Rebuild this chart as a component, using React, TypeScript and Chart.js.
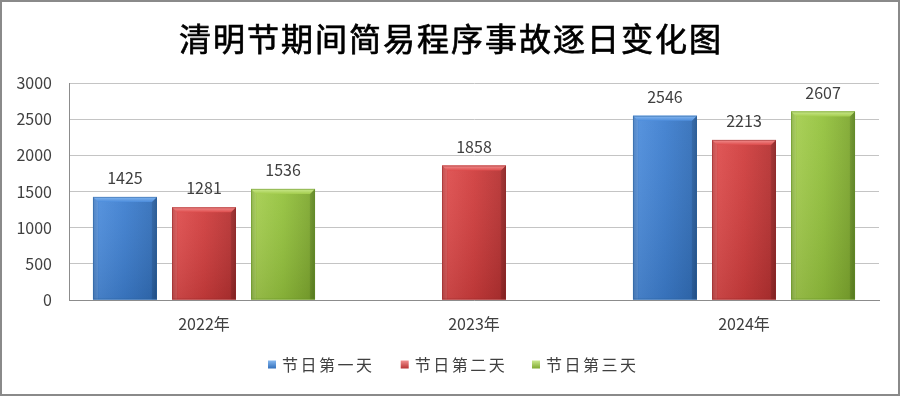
import React, { useEffect, useRef } from "react";
import { Chart, registerables } from "chart.js";

Chart.register(...registerables);

const titleText = "清明节期间简易程序事故逐日变化图";
const categories = ["2022年", "2023年", "2024年"];
const seriesNames = ["节日第一天", "节日第二天", "节日第三天"];
const day1 = [1425, null, 2546];
const day2 = [1281, 1858, 2213];
const day3 = [1536, null, 2607];
const yMin = 0;
const yMax = 3000;
const yStep = 500;

const palettes = [
  { edge: "#2a5f9e", dark: "#3370bb", mid: "#3d7ecf", light: "#4c8cdb", top: "#86b8f0" },
  { edge: "#962828", dark: "#b83232", mid: "#d03d3d", light: "#dd4c4c", top: "#f29090" },
  { edge: "#648f25", dark: "#80aa30", mid: "#94c23d", light: "#a4cd4e", top: "#cbe98e" },
];

const FONT = "'Noto Sans CJK SC', 'Noto Sans', sans-serif";

const barPlugin = {
  id: "fancyBars",
  afterDatasetsDraw(chart: any) {
    const ctx = chart.ctx as CanvasRenderingContext2D;
    chart.data.datasets.forEach((ds: any, i: number) => {
      const meta = chart.getDatasetMeta(i);
      const pal = palettes[i];
      meta.data.forEach((el: any, j: number) => {
        const v = ds.data[j];
        if (v === null || v === undefined) return;
        const { x, y, base, width } = el.getProps(["x", "y", "base", "width"], true);
        const left = x - width / 2;
        const right = x + width / 2;
        const top = Math.min(y, base);
        const bottom = Math.max(y, base);
        const h = bottom - top;
        ctx.save();
        const g = ctx.createLinearGradient(left, 0, right, 0);
        g.addColorStop(0, pal.dark);
        g.addColorStop(0.1, pal.light);
        g.addColorStop(0.5, pal.mid);
        g.addColorStop(0.9, pal.dark);
        g.addColorStop(1, pal.edge);
        ctx.fillStyle = g;
        ctx.fillRect(left, top, width, h);
        const vg = ctx.createLinearGradient(0, top, 0, bottom);
        vg.addColorStop(0, "rgba(255,255,255,0.06)");
        vg.addColorStop(1, "rgba(0,0,0,0.10)");
        ctx.fillStyle = vg;
        ctx.fillRect(left, top, width, h);
        const b = 5;
        const tg = ctx.createLinearGradient(0, top, 0, top + b);
        tg.addColorStop(0, pal.top);
        tg.addColorStop(1, pal.light);
        ctx.fillStyle = tg;
        ctx.beginPath();
        ctx.moveTo(left, top);
        ctx.lineTo(right, top);
        ctx.lineTo(right - b, top + b);
        ctx.lineTo(left + b, top + b);
        ctx.closePath();
        ctx.fill();
        ctx.fillStyle = "rgba(255,255,255,0.10)";
        ctx.beginPath();
        ctx.moveTo(left, top);
        ctx.lineTo(left + b, top + b);
        ctx.lineTo(left + b, bottom);
        ctx.lineTo(left, bottom);
        ctx.closePath();
        ctx.fill();
        ctx.fillStyle = "rgba(0,0,0,0.08)";
        ctx.beginPath();
        ctx.moveTo(right, top);
        ctx.lineTo(right - b, top + b);
        ctx.lineTo(right - b, bottom);
        ctx.lineTo(right, bottom);
        ctx.closePath();
        ctx.fill();
        ctx.strokeStyle = pal.edge;
        ctx.globalAlpha = 0.5;
        ctx.lineWidth = 1;
        ctx.strokeRect(left + 0.5, top + 0.5, width - 1, h - 1);
        ctx.globalAlpha = 1;
        ctx.fillStyle = "#404040";
        ctx.font = `16px ${FONT}`;
        ctx.textAlign = "center";
        ctx.textBaseline = "middle";
        ctx.fillText(String(v), x, top - 19);
        ctx.restore();
      });
    });
  },
};

const textPlugin = {
  id: "titleLegend",
  afterDraw(chart: any) {
    const ctx = chart.ctx as CanvasRenderingContext2D;
    ctx.save();
    ctx.fillStyle = "#000000";
    ctx.strokeStyle = "#000000";
    ctx.lineWidth = 0.7;
    ctx.font = `32px ${FONT}`;
    ctx.textAlign = "center";
    ctx.textBaseline = "middle";
    const chars = Array.from(titleText);
    const adv = 34;
    const startX = chart.width / 2 - (chars.length * adv) / 2 + adv / 2;
    chars.forEach((c, k) => {
      ctx.fillText(c, startX + k * adv, 37);
      ctx.strokeText(c, startX + k * adv, 37);
    });
    const lgY = 362.5;
    const itemStarts = [266, 398.7, 530];
    ctx.font = `16px ${FONT}`;
    chart.data.datasets.forEach((ds: any, i: number) => {
      const pal = palettes[i];
      const sx = itemStarts[i];
      const sg = ctx.createLinearGradient(sx, lgY - 4, sx, lgY + 4);
      sg.addColorStop(0, pal.top);
      sg.addColorStop(1, pal.dark);
      ctx.fillStyle = sg;
      ctx.fillRect(sx, lgY - 4, 8, 8);
      ctx.fillStyle = "#404040";
      ctx.textAlign = "center";
      const lc = Array.from(String(ds.label));
      lc.forEach((c, k) => ctx.fillText(c, sx + 14 + 8 + k * 18.5, lgY));
    });
    ctx.restore();
  },
};

export default function App() {
  const ref = useRef<HTMLCanvasElement | null>(null);
  useEffect(() => {
    document.body.style.margin = "0";
    if (!ref.current) return;
    const chart = new Chart(ref.current, {
      type: "bar",
      data: {
        labels: categories,
        datasets: [
          { label: seriesNames[0], data: day1, backgroundColor: palettes[0].mid },
          { label: seriesNames[1], data: day2, backgroundColor: palettes[1].mid },
          { label: seriesNames[2], data: day3, backgroundColor: palettes[2].mid },
        ],
      },
      options: {
        responsive: false,
        animation: false,
        events: [],
        layout: { padding: { top: 81, left: 0, right: 19, bottom: 0 } },
        datasets: { bar: { categoryPercentage: 0.878, barPercentage: 0.81 } },
        plugins: {
          legend: { display: false },
          title: { display: false },
          tooltip: { enabled: false },
        },
        scales: {
          x: {
            grid: { display: false, drawTicks: false },
            border: { display: true, color: "#8c8c8c", width: 1 },
            ticks: { color: "#404040", font: { size: 16, family: FONT }, padding: 14 },
            afterFit: (s: any) => {
              s.height = 94;
            },
          },
          y: {
            min: yMin,
            max: yMax,
            grid: { color: "#c4c4c4", drawTicks: false },
            border: { display: true, color: "#8c8c8c", width: 1 },
            ticks: {
              stepSize: yStep,
              color: "#404040",
              font: { size: 16, family: FONT },
              padding: 17,
              callback: (v: any) => String(v),
            },
            afterFit: (s: any) => {
              s.width = 67;
            },
          },
        },
      },
      plugins: [barPlugin, textPlugin],
    } as any);
    return () => chart.destroy();
  }, []);
  return (
    <div
      style={{
        width: 900,
        height: 396,
        boxSizing: "border-box",
        border: "2px solid #8a8a8a",
        background: "#ffffff",
      }}
    >
      <canvas ref={ref} width={896} height={392} style={{ display: "block" }} />
    </div>
  );
}
